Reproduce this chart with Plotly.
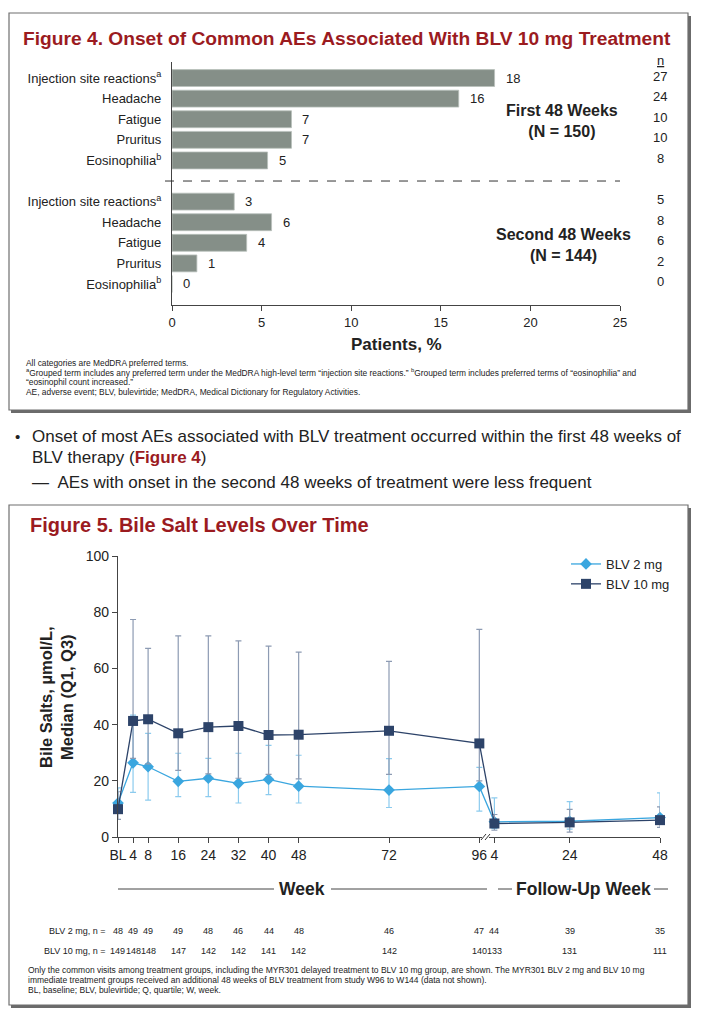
import plotly.graph_objects as go

# the page body adds an 8px margin, so the figure is drawn 8px smaller and
# every reference pixel position is shifted by that offset
OFF = 8
W, H = 720 - OFF, 1016 - OFF
FONT = "Liberation Sans, Arial, sans-serif"
RED = "#9b1b1f"
INK = "#222222"

# ---- Figure 4 data ----
ae_labels = ["Injection site reactions<sup>a</sup>", "Headache", "Fatigue", "Pruritus", "Eosinophilia<sup>b</sup>"]
first_N = 150
first_n = [27, 24, 10, 10, 8]
first_pct_label = [18, 16, 7, 7, 5]
second_N = 144
second_n = [5, 8, 6, 2, 0]
second_pct_label = [3, 6, 4, 1, 0]

# ---- Figure 5 data ----
visit_week = [0, 4, 8, 16, 24, 32, 40, 48, 72, 96]
fu_week = [4, 24, 48]
week_labels = ["BL", "4", "8", "16", "24", "32", "40", "48", "72", "96", "4", "24", "48"]
med_2 = [12.1, 26.4, 25.0, 19.8, 20.9, 19.1, 20.5, 18.1, 16.7, 18.0, 5.4, 5.6, 6.9]
q1_2 = [8.4, 15.9, 13.1, 14.4, 14.4, 12.1, 15.1, 12.1, 10.5, 9.2, 3.0, 2.8, 4.5]
q3_2 = [17.5, 43.4, 36.9, 29.8, 28.0, 29.8, 32.6, 29.1, 27.9, 24.8, 13.9, 12.6, 15.7]
med_10 = [9.9, 41.3, 41.9, 36.9, 39.1, 39.5, 36.3, 36.4, 37.8, 33.3, 4.8, 5.2, 6.0]
q1_10 = [6.3, 28.0, 26.0, 23.7, 22.5, 20.9, 22.3, 20.7, 22.3, 20.0, 2.4, 1.7, 3.4]
q3_10 = [16.1, 77.4, 67.1, 71.6, 71.6, 69.8, 67.9, 65.8, 62.5, 73.9, 8.0, 9.8, 10.7]
n_2 = [48, 49, 49, 49, 48, 46, 44, 48, 46, 47, 44, 39, 35]
n_10 = [149, 148, 148, 147, 142, 142, 141, 142, 142, 140, 133, 131, 111]


def px(x):
    return (x - OFF) / W


def py(y):
    return 1 - (y - OFF) / H


def note(x, y, text, size, xanchor="center", xref="paper", yref="paper", **kw):
    return dict(x=x, y=y, xref=xref, yref=yref, text=text, showarrow=False,
                xanchor=xanchor, yanchor="middle", font=dict(size=size, color=kw.pop("color", INK)), **kw)


fig = go.Figure()

# ---------- Figure 4: horizontal bars ----------
rows = list(range(5)) + list(range(6, 11))
pct = [n / first_N * 100 for n in first_n] + [n / second_N * 100 for n in second_n]
pct_labels = first_pct_label + second_pct_label
n_all = first_n + second_n

fig.add_trace(go.Bar(
    x=pct, y=rows, orientation="h", width=0.82,
    marker=dict(color="#858f88", line=dict(color="#b9c0bb", width=0.8)),
    xaxis="x", yaxis="y", showlegend=False, hoverinfo="skip",
))

annotations = []
for r, v, lab, n in zip(rows, pct, pct_labels, n_all):
    annotations.append(note(v, r, str(lab), 13, xanchor="left", xref="x", yref="y", xshift=9))
    annotations.append(note(px(660), r, str(n), 13, yref="y", yshift=2))
annotations += [
    note(px(660), py(60), "<u>n</u>", 13),
    note(px(562), py(121), "<b>First 48 Weeks<br>(N = 150)</b>", 16),
    note(px(563), py(245), "<b>Second 48 Weeks<br>(N = 144)</b>", 16),
    note(px(396), py(345), "<b>Patients, %</b>", 17),
    note(px(347), py(38), "<b>Figure 4. Onset of Common AEs Associated With BLV 10 mg Treatment</b>", 19.2,
         color=RED),
]
foot4 = [
    (363, "All categories are MedDRA preferred terms."),
    (372.5, "<sup>a</sup>Grouped term includes any preferred term under the MedDRA high-level term \u201cinjection site reactions.\u201d "
            "<sup>b</sup>Grouped term includes preferred terms of \u201ceosinophilia\u201d and"),
    (382, "\u201ceosinophil count increased.\u201d"),
    (392, "AE, adverse event; BLV, bulevirtide; MedDRA, Medical Dictionary for Regulatory Activities."),
]
for y, t in foot4:
    annotations.append(note(px(24), py(y), t, 8.4, xanchor="left"))

# ---------- body text ----------
annotations += [
    note(px(13), py(436), "\u2022", 15, xanchor="left"),
    note(px(30), py(436), "Onset of most AEs associated with BLV treatment occurred within the first 48 weeks of",
         17, xanchor="left"),
    note(px(30), py(458), "BLV therapy (<b><span style='color:%s'>Figure 4</span></b>)" % RED, 17, xanchor="left"),
    note(px(30), py(482), "\u2014  AEs with onset in the second 48 weeks of treatment were less frequent",
         17, xanchor="left"),
]

# ---------- Figure 5: bile salts ----------
x_pos = visit_week + [96 + w for w in fu_week]

fig.add_trace(go.Scatter(
    x=x_pos, y=med_2, name="BLV 2 mg", mode="lines+markers", xaxis="x2", yaxis="y2",
    line=dict(color="#3aa6df", width=1.3),
    marker=dict(symbol="diamond", size=9, color="#3aa6df"),
    error_y=dict(type="data", symmetric=False,
                 array=[b - a for a, b in zip(med_2, q3_2)],
                 arrayminus=[a - b for a, b in zip(med_2, q1_2)],
                 color="#8ccbee", thickness=1.2, width=3),
    cliponaxis=False, hoverinfo="skip",
))
fig.add_trace(go.Scatter(
    x=x_pos, y=med_10, name="BLV 10 mg", mode="lines+markers", xaxis="x2", yaxis="y2",
    line=dict(color="#2d4369", width=1.3),
    marker=dict(symbol="square", size=10, color="#2d4369"),
    error_y=dict(type="data", symmetric=False,
                 array=[b - a for a, b in zip(med_10, q3_10)],
                 arrayminus=[a - b for a, b in zip(med_10, q1_10)],
                 color="#8d9bb3", thickness=1.2, width=3),
    cliponaxis=False, hoverinfo="skip",
))

for xv, a, b in zip(x_pos, n_2, n_10):
    annotations.append(note(xv, py(931), str(a), 9, xref="x2"))
    annotations.append(note(xv, py(951), str(b), 9, xref="x2"))
annotations += [
    note(px(108), py(931), "BLV 2 mg, n =", 9, xanchor="right"),
    note(px(108), py(951), "BLV 10 mg, n =", 9, xanchor="right"),
    note(px(302), py(889), "<b>Week</b>", 17.5),
    note(px(583), py(889), "<b>Follow-Up Week</b>", 17.5),
    note(px(56), py(697), "<b>Bile Salts, \u00b5mol/L,<br>Median (Q1, Q3)</b>", 16.5, textangle=-90),
    note(px(28), py(525), "<b>Figure 5. Bile Salt Levels Over Time</b>", 20, xanchor="left", color=RED),
]
foot5 = [
    (970, "Only the common visits among treatment groups, including the MYR301 delayed treatment to BLV 10 mg group, are shown. "
          "The MYR301 BLV 2 mg and BLV 10 mg"),
    (980, "immediate treatment groups received an additional 48 weeks of BLV treatment from study W96 to W144 (data not shown)."),
    (990, "BL, baseline; BLV, bulevirtide; Q, quartile; W, week."),
]
for y, t in foot5:
    annotations.append(note(px(26), py(y), t, 8.5, xanchor="left"))

# ---------- shapes: boxes, dashed divider, week rules, axis break ----------
shapes = []
for top, bottom in [(13, 410), (505, 1005)]:
    shapes.append(dict(type="rect", xref="paper", yref="paper", x0=px(11), x1=px(691),
                       y0=py(bottom + 3), y1=py(top + 3), fillcolor="#6b6b6b", line=dict(width=0), layer="below"))
    shapes.append(dict(type="rect", xref="paper", yref="paper", x0=px(9), x1=px(688),
                       y0=py(bottom), y1=py(top), fillcolor="white", line=dict(color="#6f6f6f", width=1.2),
                       layer="below"))
shapes.append(dict(type="line", xref="paper", yref="y", x0=px(165), x1=px(620), y0=5, y1=5,
                   line=dict(color="#333333", width=1, dash="dash")))
for x0, x1 in [(118, 274), (331, 487), (498, 512), (654, 668)]:
    shapes.append(dict(type="line", xref="paper", yref="paper", x0=px(x0), x1=px(x1), y0=py(889), y1=py(889),
                       line=dict(color="#444444", width=1)))
shapes.append(dict(type="rect", xref="paper", yref="paper", x0=px(482), x1=px(489), y0=py(839), y1=py(835),
                   fillcolor="white", line=dict(width=0), layer="above"))
for xs in (481, 485):
    shapes.append(dict(type="line", xref="paper", yref="paper", x0=px(xs), x1=px(xs + 5), y0=py(840), y1=py(834),
                       line=dict(color="#333333", width=1), layer="above"))

axis_common = dict(showline=True, linecolor="#444444", linewidth=1.2, showgrid=False, zeroline=False,
                   ticks="outside", ticklen=5, tickcolor="#444444", automargin=False)

fig.update_layout(
    width=W, height=H, margin=dict(l=0, r=0, t=0, b=0, autoexpand=False),
    paper_bgcolor="white", plot_bgcolor="rgba(0,0,0,0)",
    font=dict(family=FONT, color=INK),
    xaxis=dict(domain=[px(172), px(620)], range=[0, 25], tickvals=[0, 5, 10, 15, 20, 25], anchor="y",
               tickfont=dict(size=13, color=INK), **axis_common),
    yaxis=dict(domain=[py(305), py(62)], range=[11.02, -0.78], tickvals=rows,
               ticktext=ae_labels + ae_labels, anchor="x", showline=True, linecolor="#444444",
               linewidth=1.2, showgrid=False, zeroline=False, ticks="", ticklabelstandoff=7,
               automargin=False, tickfont=dict(size=13, color=INK)),
    xaxis2=dict(domain=[px(118), px(660)], range=[0, 144], tickvals=x_pos, ticktext=week_labels,
                anchor="y2", tickfont=dict(size=14, color=INK), **axis_common),
    yaxis2=dict(domain=[py(837), py(556)], range=[0, 100], dtick=20, anchor="x2",
                tickfont=dict(size=14, color=INK), **axis_common),
    legend=dict(x=px(566), y=py(549), xanchor="left", yanchor="top", bgcolor="rgba(0,0,0,0)",
                font=dict(size=13, color=INK), tracegroupgap=2, itemwidth=30),
    annotations=annotations, shapes=shapes,
)

fig.write_html("out.html")
